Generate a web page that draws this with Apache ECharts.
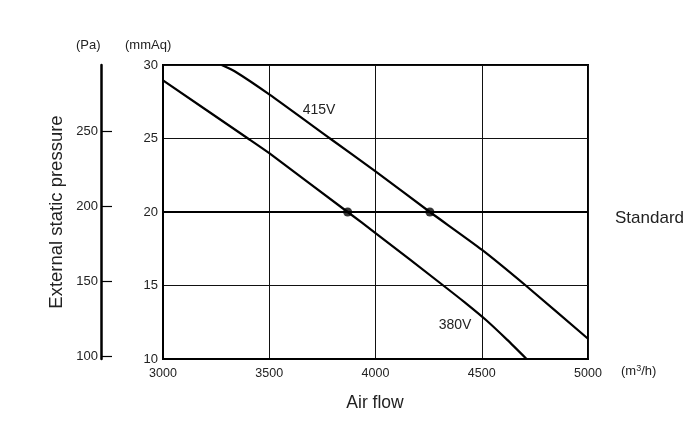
<!DOCTYPE html>
<html>
<head>
<meta charset="utf-8">
<script src="https://cdn.jsdelivr.net/npm/echarts@6/dist/echarts.min.js"></script>
<style>
html,body{margin:0;padding:0;background:#fff;}
#chart{width:694px;height:423px;}
</style>
</head>
<body>
<div id="chart"></div>
<script>
// Air flow (m3/h) vs external static pressure (mmAq)
var curve415V = [[3276,30],[3339,29.56],[3500,28.0],[3786,25],[4000,22.76],[4256,20],[4500,17.44],[4707,15],[5000,11.38]];
var curve380V = [[3000,28.95],[3400,25.0],[3500,24.0],[3869,20.0],[4000,18.57],[4319,15.0],[4420,13.85],[4520,12.65],[4620,11.3],[4711,10]];
var standardLine = [[3000,20],[5000,20]];
var operatingPoints = [[3869,20],[4256,20]];
var xTicks = [3000,3500,4000,4500,5000];
var mmAqTicks = [10,15,20,25,30];
var paTicks = [100,150,200,250];
var MMAQ_TO_PA = 9.80665;

var font = 'Liberation Sans, Arial, Helvetica, sans-serif';
var txt = '#222';
var chart = echarts.init(document.getElementById('chart'), null, {renderer:'canvas'});
chart.setOption({
  animation:false,
  backgroundColor:'#fff',
  grid:{left:163, top:65, width:425, height:294, show:true, borderColor:'#000', borderWidth:2, backgroundColor:'transparent'},
  xAxis:{
    type:'value', min:xTicks[0], max:xTicks[xTicks.length-1], interval:500,
    axisLine:{show:true, lineStyle:{color:'#000', width:2}},
    axisTick:{show:false},
    splitLine:{show:true, lineStyle:{color:'#111', width:1}},
    axisLabel:{color:txt, fontSize:12.5, fontFamily:font, margin:8, formatter:function(v){return String(v);}}
  },
  yAxis:[{
    type:'value', min:mmAqTicks[0], max:mmAqTicks[mmAqTicks.length-1], interval:5,
    axisLine:{show:true, lineStyle:{color:'#000', width:2}},
    axisTick:{show:false},
    splitLine:{show:true, lineStyle:{color:'#111', width:1}},
    axisLabel:{color:txt, fontSize:13, fontFamily:font, margin:5}
  },{
    type:'value', position:'left', offset:62,
    min:mmAqTicks[0]*MMAQ_TO_PA, max:mmAqTicks[mmAqTicks.length-1]*MMAQ_TO_PA,
    axisLine:{show:true, lineStyle:{color:'#000', width:2.5}},
    axisTick:{show:true, inside:true, length:11, customValues:paTicks, lineStyle:{color:'#000', width:1.2}},
    splitLine:{show:false},
    axisLabel:{color:txt, fontSize:13, fontFamily:font, margin:3, customValues:paTicks, showMinLabel:true, showMaxLabel:true}
  }],
  series:[
    {type:'line', name:'415V', data:curve415V, showSymbol:false, smooth:0.2, lineStyle:{color:'#000', width:2.2}, z:5},
    {type:'line', name:'380V', data:curve380V, showSymbol:false, smooth:0.2, lineStyle:{color:'#000', width:2.2}, z:5},
    {type:'line', name:'Standard', data:standardLine, showSymbol:false, lineStyle:{color:'#000', width:2.2}, z:4},
    {type:'scatter', name:'points', data:operatingPoints, symbol:'circle', symbolSize:9, itemStyle:{color:'#000'}, z:6}
  ],
  graphic:[
    {type:'text', left:76, top:39, style:{text:'(Pa)', font:'13px '+font, fill:txt}},
    {type:'text', left:125, top:39, style:{text:'(mmAq)', font:'13px '+font, fill:txt}},
    {type:'text', left:621, top:364, style:{text:'(m{s|3}/h)', font:'13px '+font, fill:txt, rich:{s:{fontSize:9, verticalAlign:'top', padding:[0,0,6,0], fill:txt, fontFamily:font}}}},
    {type:'text', x:375, y:403, style:{text:'Air flow', font:'17.5px '+font, fill:txt, align:'center', verticalAlign:'middle'}},
    {type:'text', x:57, y:212, rotation:Math.PI/2, style:{text:'External static pressure', font:'18.5px '+font, fill:txt, align:'center', verticalAlign:'middle'}},
    {type:'text', x:615, y:218, style:{text:'Standard', font:'17px '+font, fill:txt, align:'left', verticalAlign:'middle'}},
    {type:'text', x:319, y:110, style:{text:'415V', font:'14px '+font, fill:txt, align:'center', verticalAlign:'middle'}},
    {type:'text', x:455, y:325, style:{text:'380V', font:'14px '+font, fill:txt, align:'center', verticalAlign:'middle'}}
  ]
});
</script>
</body>
</html>
